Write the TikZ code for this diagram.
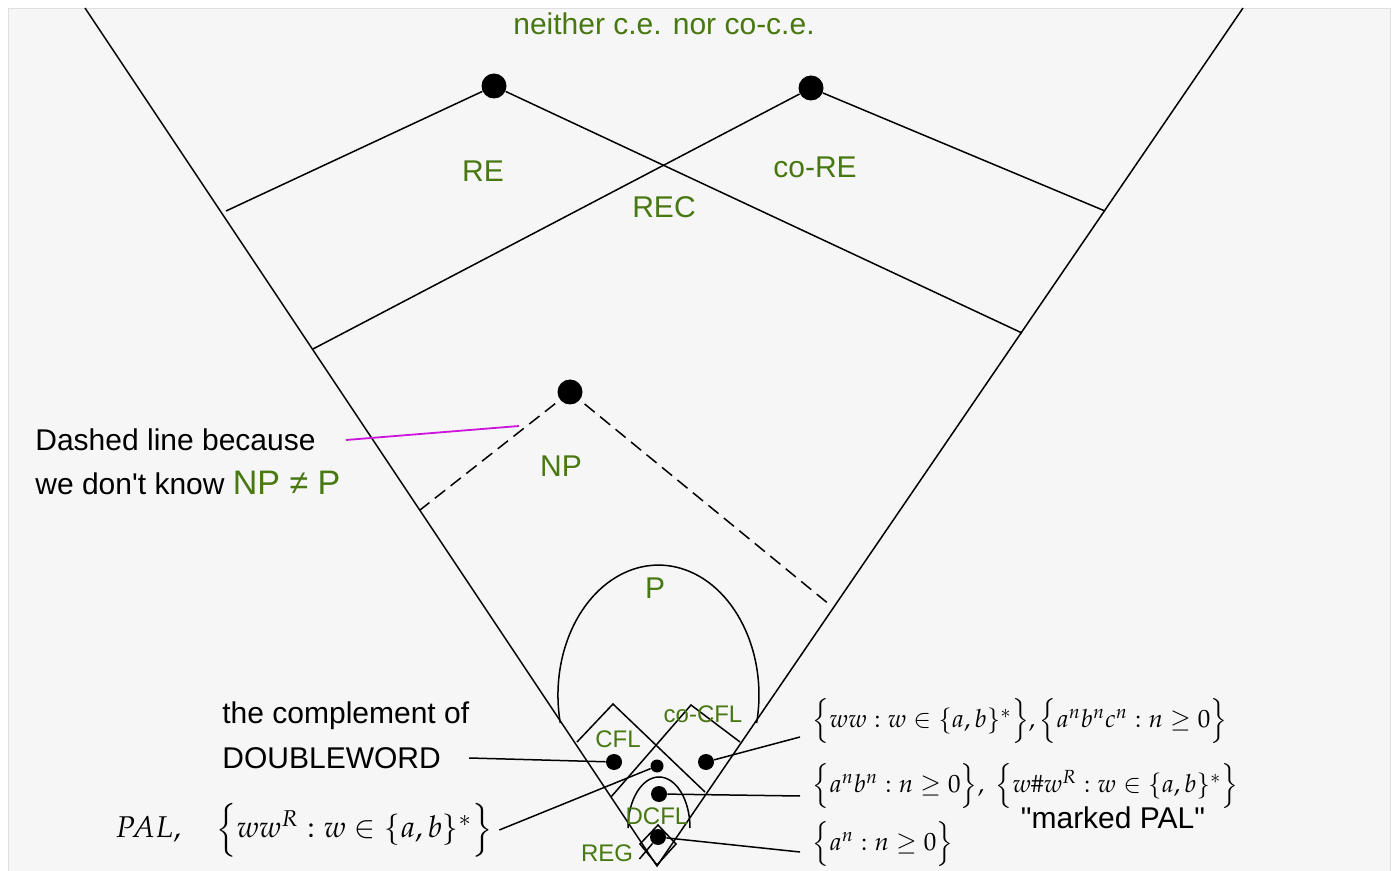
\documentclass[tikz,border=0pt]{standalone}
\usepackage{amsmath}
\usepackage{mathpazo}
\usepackage[no-math]{fontspec}
\setmainfont{Liberation Sans}[Ligatures=TeXOff]
\definecolor{clsgreen}{RGB}{72,120,18}
\definecolor{notemagenta}{RGB}{204,20,220}

\begin{document}
\begin{tikzpicture}[x=0.5pt,y=-0.5pt,
  dot/.style={circle,fill=black,inner sep=0pt,minimum size=8pt},
  bigdot/.style={dot,minimum size=12.5pt},
  note/.style={font=\fontsize{15}{18}\selectfont,inner sep=0pt},
  cls/.style={note,text=clsgreen},
  subcls/.style={font=\fontsize{12}{14}\selectfont,text=clsgreen,inner sep=0pt},
  lang/.style={font=\fontsize{12.5}{15}\selectfont,inner sep=0pt,anchor=west},
  edge/.style={line width=0.75pt}]
  \useasboundingbox (0,0) rectangle (1393,871);

  % backdrop
  \fill[gray!7] (8,8) rectangle (1390,871);
  \draw[gray!25] (8,871) -- (8,8) -- (1390,8) -- (1390,871);

  % the big V
  \coordinate (apex) at (657,866);
  \coordinate (Ltop) at (85,8);
  \coordinate (Rtop) at (1243,8);
  \draw[edge] (Ltop) -- (apex) -- (Rtop);

  % === RE and co-RE ===
  \node[bigdot] (REdot)   at (494,86) {};
  \node[bigdot] (coREdot) at (811,88) {};
  \coordinate (REl)   at (226,211);
  \coordinate (REr)   at (1022,333);
  \coordinate (coREl) at (313,349);
  \coordinate (coREr) at (1105,211);
  \draw[edge] (REl) -- (REdot) -- (REr);
  \draw[edge] (coREl) -- (coREdot) -- (coREr);

  % === NP (dashed: not known to differ from P) ===
  \node[bigdot] (NPdot) at (570,392) {};
  \coordinate (NPl) at (420,510);
  \coordinate (NPr) at (830,605);
  \draw[edge,dash pattern=on 6.5pt off 3.5pt,shorten <=3pt] (NPdot) -- (NPl);
  \draw[edge,dash pattern=on 6.5pt off 3.5pt,shorten <=3pt] (NPdot) -- (NPr);

  % P, cut off by the V
  \draw[edge] (756.6,723) arc[start angle=-12.4,end angle=192.4,x radius=50.25pt,y radius=65pt];

  % CFL and co-CFL
  \draw[edge] (577,742) -- (613,704) -- (705,792);
  \draw[edge] (611,797) -- (691,705) -- (740,742);

  % DCFL and REG
  \draw[edge] (690,828) arc[start angle=0,end angle=180,x radius=15.5pt,y radius=25.5pt];
  \draw[edge] (658,825) -- (676,844) -- (657,865) -- (640,844) -- cycle;

  % sample languages
  \node[dot] (cfldot)   at (614,762) {};
  \node[dot,minimum size=6.5pt] (paldot) at (657,766) {};
  \node[dot] (cocfldot) at (706,762) {};
  \node[dot] (dcfldot)  at (659,794) {};
  \node[dot] (regdot)   at (658,837) {};

  % class names
  \node[cls] (unclass) at (664,24) {neither c.e. nor co-c.e.};
  \node[cls] (RE)   at (483,171) {RE};
  \node[cls] (coRE) at (815,167) {co-RE};
  \node[cls] (REC)  at (664,207) {REC};
  \node[cls] (NP)   at (561,466) {NP};
  \node[cls] (P)    at (655,588) {P};
  \node[subcls] (CFL)   at (618,739) {CFL};
  \node[subcls] (coCFL) at (703,714) {co-CFL};
  \node[subcls] (DCFL)  at (657,816) {DCFL};
  \node[subcls] (REG)   at (607,853) {REG};

  % notes on the left
  \node[note,anchor=west] (why1) at (35,440) {Dashed line because};
  \node[note,anchor=west] (why2) at (35,483) {we don't know \textcolor{clsgreen}{\fontsize{17}{20}\selectfont NP ≠ P}};
  \node[note,anchor=west] (cmp1) at (222,716) {the complement of};
  \node[note,anchor=west] (cmp2) at (222,758) {DOUBLEWORD};
  \node[lang,font=\fontsize{15}{18}\selectfont] (pal) at (115,830) {$PAL,\quad\Big\{ww^R : w\in\{a,b\}^*\Big\}$};

  % languages on the right
  \node[lang] (ww)   at (812,721) {$\Big\{ww : w\in\{a,b\}^*\Big\}, \Big\{a^nb^nc^n : n\geq 0\Big\}$};
  \node[lang] (anbn) at (812,786) {$\Big\{a^nb^n : n\geq 0\Big\},\ \Big\{w\#w^R : w\in\{a,b\}^*\Big\}$};
  \node[note] (marked) at (1113,818) {"marked PAL"};
  \node[lang] (an)   at (812,844) {$\Big\{a^n : n\geq 0\Big\}$};

  % pointers
  \coordinate (dashmark) at (519,426);
  \coordinate (wwend)    at (800,737);
  \coordinate (anbnend)  at (800,796);
  \coordinate (anend)    at (800,852);
  \draw[notemagenta,line width=0.9pt] ([xshift=15pt]why1.east) -- (dashmark);
  \draw[edge] (cmp2.east) ++(14pt,0) -- (cfldot);
  \draw[edge] (pal.east) ++(3pt,0) -- (paldot);
  \draw[edge] (cocfldot) -- (wwend);
  \draw[edge] (dcfldot) -- (anbnend);
  \draw[edge] (regdot) -- (anend);
  \draw[edge] ([xshift=3pt,yshift=-3pt]REG.east) -- (regdot);
\end{tikzpicture}
\end{document}
